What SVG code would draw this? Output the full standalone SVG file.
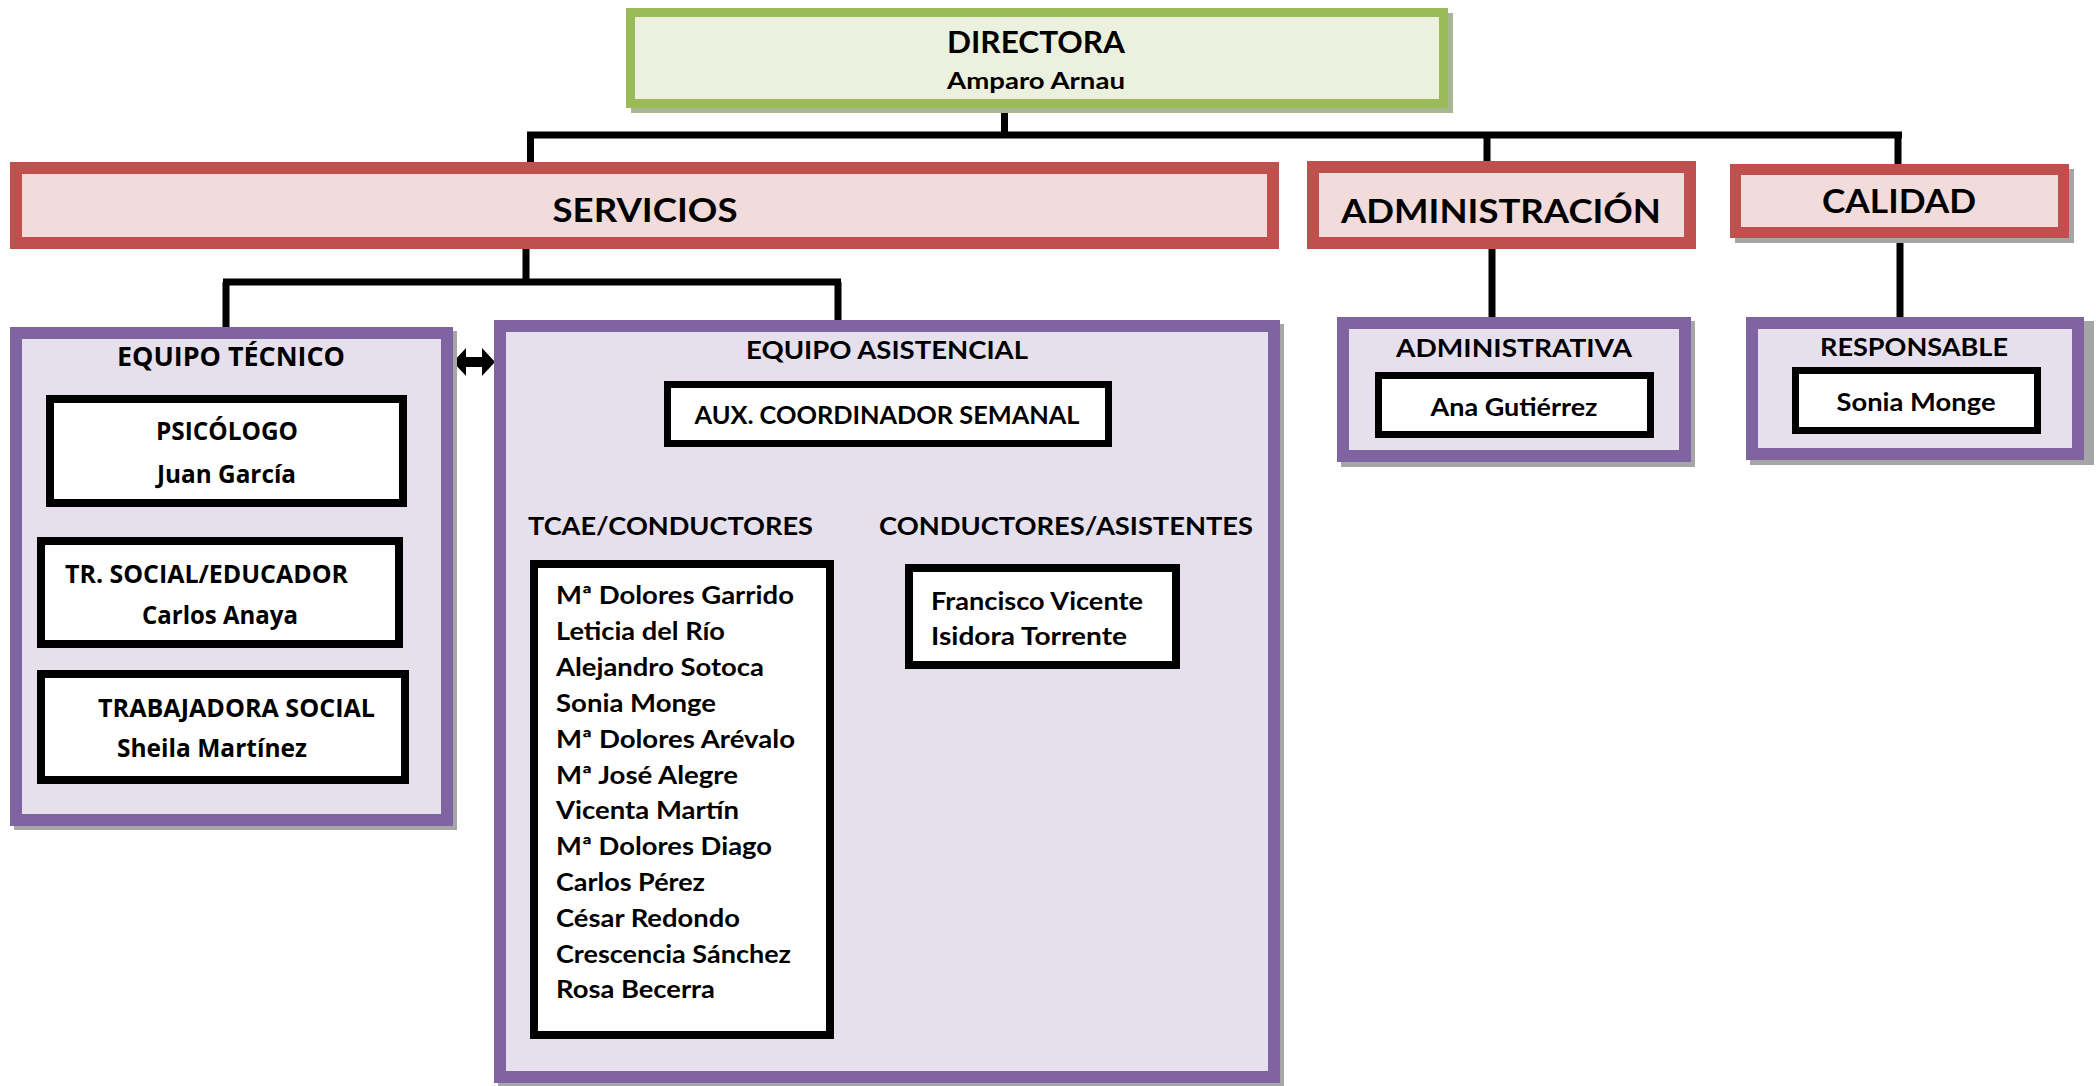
<svg xmlns="http://www.w3.org/2000/svg" width="2096" height="1086" viewBox="0 0 2096 1086">
<defs>
<style>
.c{font-family:Lato,"Liberation Sans",sans-serif;font-weight:bold;fill:#000}
.o{font-family:"Open Sans","Liberation Sans",sans-serif;font-weight:bold;fill:#000}
.g{fill:#EBF1DE;stroke:#9BBB59}
.r{fill:#F2DCDB;stroke:#C0504D}
.p{fill:#E5E0EC;stroke:#8064A2}
.b{fill:#FFFFFF;stroke:#000}
.sh{fill:#A6A6A6}
.shg{fill:#A9B795}
.ln{stroke:#000;stroke-width:7;fill:none}
</style>
</defs>
<rect width="2096" height="1086" fill="#FFFFFF"/>

<g id="connectors">
<path class="ln" d="M1004.5,112 V135 M527,135 H1902 M530.5,135 V162 M1487,135 V166 M1898,135 V164"/>
<path class="ln" d="M526,249 V282 M223,282 H841 M226,282 V327 M838,282 V320"/>
<path class="ln" d="M1492,249 V317 M1900,238 V317"/>
<path class="ln" d="M891,447 V473 M676,473 H1070 M679,473 V497 M1067,473 V497"/>
<polygon points="453,362 466,348 466,357 482,357 482,348 495,362 482,376 482,367 466,367 466,376" fill="#000"/>
</g>

<g id="directora">
<rect class="shg" x="631" y="13" width="822" height="100"/>
<rect class="g" x="630.5" y="12.5" width="813" height="91" stroke-width="9"/>
<text class="c" x="1036" y="53" font-size="30" text-anchor="middle" textLength="178" lengthAdjust="spacingAndGlyphs">DIRECTORA</text>
<text class="c" x="1036" y="89" font-size="22" text-anchor="middle" textLength="178" lengthAdjust="spacingAndGlyphs">Amparo Arnau</text>
</g>

<g id="servicios">
<rect class="r" x="16" y="168" width="1257" height="75" stroke-width="12"/>
<text class="c" x="645" y="222" font-size="33" text-anchor="middle" textLength="185" lengthAdjust="spacingAndGlyphs">SERVICIOS</text>
</g>

<g id="administracion">
<rect class="r" x="1313" y="167" width="377" height="76" stroke-width="12"/>
<text class="c" x="1501" y="223" font-size="33" text-anchor="middle" textLength="320" lengthAdjust="spacingAndGlyphs">ADMINISTRACIÓN</text>
</g>

<g id="calidad">
<rect class="sh" x="1735" y="169" width="339" height="74"/>
<rect class="r" x="1735.5" y="169.5" width="328" height="63" stroke-width="11"/>
<text class="c" x="1899" y="213" font-size="33" text-anchor="middle" textLength="154" lengthAdjust="spacingAndGlyphs">CALIDAD</text>
</g>

<g id="equipo-tecnico">
<rect class="sh" x="14" y="331" width="443" height="499"/>
<rect class="p" x="16" y="333" width="431" height="487" stroke-width="12"/>
<text class="o" x="231" y="366" font-size="26" text-anchor="middle" textLength="228" lengthAdjust="spacingAndGlyphs">EQUIPO TÉCNICO</text>
</g>

<g id="psicologo">
<rect class="b" x="50" y="399" width="353" height="104" stroke-width="8"/>
<text class="o" x="227" y="440" font-size="25" text-anchor="middle" textLength="142" lengthAdjust="spacingAndGlyphs">PSICÓLOGO</text>
<text class="o" x="226.5" y="483" font-size="25" text-anchor="middle" textLength="139" lengthAdjust="spacingAndGlyphs">Juan García</text>
</g>

<g id="tr-social">
<rect class="b" x="41" y="541" width="358" height="103" stroke-width="8"/>
<text class="o" x="65" y="583" font-size="25" textLength="283" lengthAdjust="spacingAndGlyphs">TR. SOCIAL/EDUCADOR</text>
<text class="o" x="142" y="624" font-size="25" textLength="156" lengthAdjust="spacingAndGlyphs">Carlos Anaya</text>
</g>

<g id="trabajadora-social">
<rect class="b" x="41" y="674" width="364" height="106" stroke-width="8"/>
<text class="o" x="98" y="717" font-size="25" textLength="277" lengthAdjust="spacingAndGlyphs">TRABAJADORA SOCIAL</text>
<text class="o" x="117" y="757" font-size="25" textLength="190" lengthAdjust="spacingAndGlyphs">Sheila Martínez</text>
</g>

<g id="equipo-asistencial">
<rect class="sh" x="498" y="324" width="786" height="763"/>
<rect class="p" x="500" y="326" width="774" height="751" stroke-width="12"/>
<text class="c" x="887" y="359" font-size="25" text-anchor="middle" textLength="282" lengthAdjust="spacingAndGlyphs">EQUIPO ASISTENCIAL</text>
</g>

<g id="aux-coordinador">
<rect class="b" x="667.5" y="384.5" width="441" height="59" stroke-width="7"/>
<text class="c" x="887" y="424" font-size="24" text-anchor="middle" textLength="385" lengthAdjust="spacingAndGlyphs">AUX. COORDINADOR SEMANAL</text>
</g>

<g id="tcae-conductores">
<text class="c" x="528" y="535" font-size="25" textLength="285" lengthAdjust="spacingAndGlyphs">TCAE/CONDUCTORES</text>
<rect class="b" x="534" y="564" width="296" height="471" stroke-width="8"/>
<text class="c" x="556" y="604" font-size="24" textLength="238" lengthAdjust="spacingAndGlyphs">Mª Dolores Garrido</text>
<text class="c" x="556" y="640" font-size="24" textLength="169" lengthAdjust="spacingAndGlyphs">Leticia del Río</text>
<text class="c" x="556" y="676" font-size="24" textLength="208" lengthAdjust="spacingAndGlyphs">Alejandro Sotoca</text>
<text class="c" x="556" y="712" font-size="24" textLength="160" lengthAdjust="spacingAndGlyphs">Sonia Monge</text>
<text class="c" x="556" y="748" font-size="24" textLength="239" lengthAdjust="spacingAndGlyphs">Mª Dolores Arévalo</text>
<text class="c" x="556" y="784" font-size="24" textLength="182" lengthAdjust="spacingAndGlyphs">Mª José Alegre</text>
<text class="c" x="556" y="819" font-size="24" textLength="183" lengthAdjust="spacingAndGlyphs">Vicenta Martín</text>
<text class="c" x="556" y="855" font-size="24" textLength="216" lengthAdjust="spacingAndGlyphs">Mª Dolores Diago</text>
<text class="c" x="556" y="891" font-size="24" textLength="149" lengthAdjust="spacingAndGlyphs">Carlos Pérez</text>
<text class="c" x="556" y="927" font-size="24" textLength="184" lengthAdjust="spacingAndGlyphs">César Redondo</text>
<text class="c" x="556" y="963" font-size="24" textLength="235" lengthAdjust="spacingAndGlyphs">Crescencia Sánchez</text>
<text class="c" x="556" y="998" font-size="24" textLength="159" lengthAdjust="spacingAndGlyphs">Rosa Becerra</text>
</g>

<g id="conductores-asistentes">
<text class="c" x="879" y="535" font-size="25" textLength="374" lengthAdjust="spacingAndGlyphs">CONDUCTORES/ASISTENTES</text>
<rect class="b" x="909" y="568" width="267" height="97" stroke-width="8"/>
<text class="c" x="931" y="610" font-size="24" textLength="212" lengthAdjust="spacingAndGlyphs">Francisco Vicente</text>
<text class="c" x="931" y="645" font-size="24" textLength="196" lengthAdjust="spacingAndGlyphs">Isidora Torrente</text>
</g>

<g id="administrativa">
<rect class="sh" x="1341" y="321" width="354" height="146"/>
<rect class="p" x="1343" y="323" width="342" height="133" stroke-width="12"/>
<text class="c" x="1514" y="357" font-size="25" text-anchor="middle" textLength="236" lengthAdjust="spacingAndGlyphs">ADMINISTRATIVA</text>
</g>

<g id="ana-gutierrez">
<rect class="b" x="1378.5" y="375.5" width="272" height="59" stroke-width="7"/>
<text class="c" x="1514" y="416" font-size="24" text-anchor="middle" textLength="167" lengthAdjust="spacingAndGlyphs">Ana Gutiérrez</text>
</g>

<g id="responsable">
<rect class="sh" x="1750" y="321" width="344" height="144"/>
<rect class="p" x="1752" y="323" width="326" height="131" stroke-width="12"/>
<text class="c" x="1914" y="356" font-size="25" text-anchor="middle" textLength="188" lengthAdjust="spacingAndGlyphs">RESPONSABLE</text>
</g>

<g id="sonia-monge">
<rect class="b" x="1795.5" y="370.5" width="242" height="60" stroke-width="7"/>
<text class="c" x="1916" y="411" font-size="24" text-anchor="middle" textLength="159" lengthAdjust="spacingAndGlyphs">Sonia Monge</text>
</g>
</svg>
